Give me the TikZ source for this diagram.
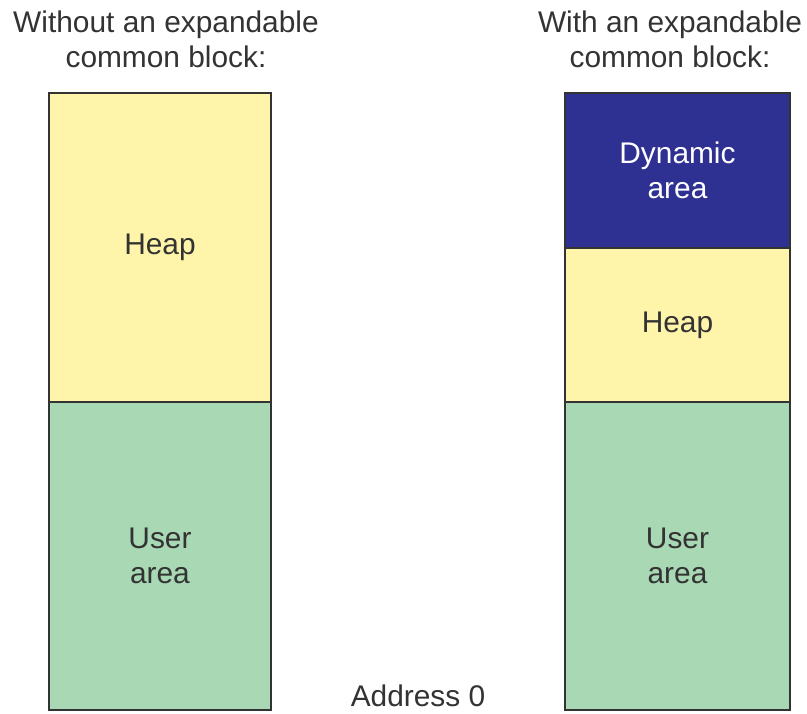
\documentclass[tikz,border=0pt]{standalone}
\usepackage{fontspec}
\setmainfont{Liberation Sans}
\usetikzlibrary{positioning}
\definecolor{heapyellow}{HTML}{FFF5AA}
\definecolor{usergreen}{HTML}{A8D8B4}
\definecolor{dynblue}{HTML}{2E3192}
\definecolor{edgegray}{HTML}{333333}
\tikzset{
	block/.style={draw=edgegray, line width=0.9pt, outer sep=0pt, inner sep=0pt,
		align=center, text=black!80, font=\fontsize{17}{20}\selectfont},
	caption/.style={align=center, text=black!80, font=\fontsize{17}{20}\selectfont}
}

\begin{document}
\begin{tikzpicture}[x=0.02cm, y=-0.02cm]
		%%%%% START %%%%%
		\useasboundingbox (0, 0) rectangle (807, 713);
		
		% left column
		\node[caption] (ltitle) at (166, 39) {Without an expandable\\common block:};
		\node[block, anchor=north west, fill=heapyellow, minimum width=4.44cm, minimum height=6.18cm] (lheap) at (49, 93) {Heap};
		\node[block, below=0pt of lheap, fill=usergreen, minimum width=4.44cm, minimum height=6.16cm] (luser) {User\\area};
		
		% right column
		\node[caption] (rtitle) at (670, 39) {With an expandable\\common block:};
		\node[block, anchor=north west, fill=dynblue, text=white, minimum width=4.5cm, minimum height=3.1cm] (rdyn) at (565, 93) {Dynamic\\area};
		\node[block, below=0pt of rdyn, fill=heapyellow, minimum width=4.5cm, minimum height=3.08cm] (rheap) {Heap};
		\node[block, below=0pt of rheap, fill=usergreen, minimum width=4.5cm, minimum height=6.16cm] (ruser) {User\\area};
		
		\node[caption] (addr) at (418, 696) {Address 0};
		%%%%% END %%%%%
	\end{tikzpicture}
\end{document}
